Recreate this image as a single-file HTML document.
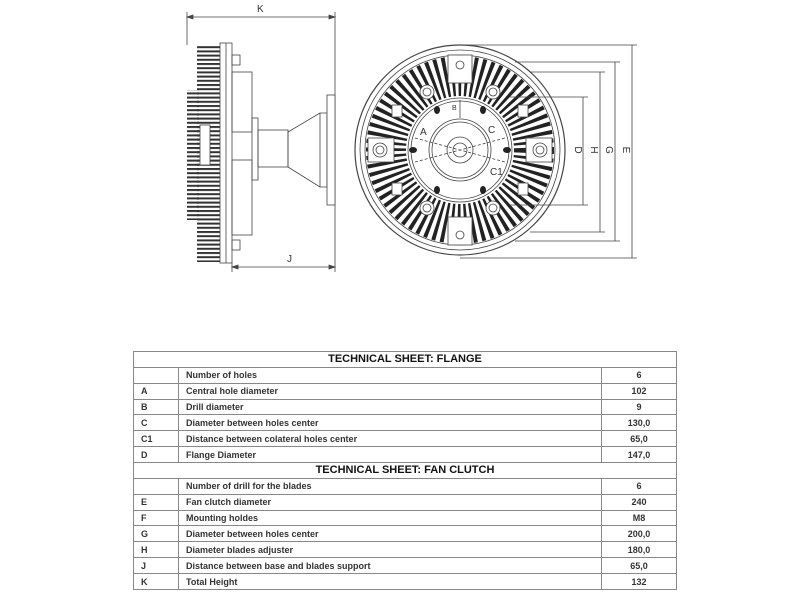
<!DOCTYPE html>
<html><head><meta charset="utf-8"><style>
body{margin:0;background:#fff;width:800px;height:600px;overflow:hidden;font-family:"Liberation Sans",Arial,sans-serif}
svg{position:absolute;left:0;top:0}
table{position:absolute;left:133px;top:351px;width:544px;height:239px;border-collapse:collapse;font-size:9px;font-weight:bold;color:#333}
td{border:1px solid #888;padding:0 0 0 7px;line-height:12px}
td.c{text-align:center;padding:0}
td.t{text-align:center;font-size:11px;color:#111;padding:0}
</style></head><body>
<svg width="800" height="300" viewBox="0 0 800 300">
<defs>
<pattern id="fin" width="4" height="4.2" patternUnits="userSpaceOnUse"><rect width="4" height="2" fill="#333"/></pattern>
</defs>
<g stroke="#444" stroke-width="0.8" fill="none">
<line x1="187" y1="17" x2="335" y2="17"/>
<polygon points="187,17 193,15 193,19" fill="#444"/><polygon points="335,17 329,15 329,19" fill="#444"/>
<line x1="187" y1="12" x2="187" y2="45"/>
<line x1="335" y1="12" x2="335" y2="272"/>
<line x1="232" y1="262" x2="232" y2="272"/>
<line x1="232" y1="267" x2="335" y2="267"/>
<polygon points="232,267 238,265 238,269" fill="#444"/><polygon points="335,267 329,265 329,269" fill="#444"/>
<rect x="197" y="45" width="23" height="217" fill="url(#fin)" stroke="none"/>
<rect x="187" y="90" width="12" height="130" fill="url(#fin)" stroke="none"/>
<rect x="200" y="125" width="10" height="40" fill="#fff" stroke="#444"/>
<rect x="220" y="43" width="12" height="220" fill="#fff"/>
<line x1="226" y1="43" x2="226" y2="263"/>
<rect x="232" y="55" width="8" height="10"/><rect x="232" y="240" width="8" height="10"/>
<rect x="232" y="72" width="20" height="60"/><rect x="232" y="160" width="20" height="75"/>
<rect x="252" y="118" width="6" height="62"/>
<rect x="258" y="130" width="30" height="37"/>
<polygon points="288,132 320,113 327,113 327,187 320,187 288,167"/>
<line x1="320" y1="113" x2="320" y2="187"/>
<rect x="327" y="95" width="8" height="110" fill="#fff"/>
<circle cx="460" cy="150" r="105" stroke-width="1.2"/>
<circle cx="460" cy="150" r="100"/>
<circle cx="460" cy="150" r="95"/>
<circle cx="460" cy="150" r="74" stroke="#222" stroke-width="40" stroke-dasharray="3.2 3.6"/>
<g fill="#fff" stroke="#444">
<rect x="448" y="55" width="24" height="28"/><rect x="448" y="217" width="24" height="28"/>
<rect x="368" y="138" width="26" height="24"/><rect x="526" y="138" width="26" height="24"/>
<circle cx="460" cy="65" r="4"/><circle cx="460" cy="235" r="4"/>
<circle cx="380" cy="150" r="7"/><circle cx="380" cy="150" r="4"/>
<circle cx="540" cy="150" r="7"/><circle cx="540" cy="150" r="4"/>
<circle cx="427" cy="92" r="7"/><circle cx="427" cy="92" r="4"/>
<circle cx="493" cy="92" r="7"/><circle cx="493" cy="92" r="4"/>
<circle cx="427" cy="208" r="7"/><circle cx="427" cy="208" r="4"/>
<circle cx="493" cy="208" r="7"/><circle cx="493" cy="208" r="4"/>
<rect x="392" y="105" width="10" height="12"/><rect x="518" y="105" width="10" height="12"/>
<rect x="392" y="183" width="10" height="12"/><rect x="518" y="183" width="10" height="12"/>
</g>
<circle cx="460" cy="150" r="52" fill="#fff"/>
<circle cx="460" cy="150" r="49"/>
<circle cx="460" cy="150" r="31"/><circle cx="460" cy="150" r="28"/>
<circle cx="460" cy="150" r="13"/><circle cx="460" cy="150" r="7"/>
<line x1="415" y1="138" x2="505" y2="162" stroke-dasharray="3 2"/>
<line x1="415" y1="162" x2="505" y2="138" stroke-dasharray="3 2"/>
<line x1="460" y1="100" x2="460" y2="118"/>
<g fill="#222" stroke="none">
<ellipse cx="413" cy="150" rx="4" ry="3"/><ellipse cx="507" cy="150" rx="4" ry="3"/>
<ellipse cx="437" cy="110" rx="3" ry="4"/><ellipse cx="483" cy="110" rx="3" ry="4"/>
<ellipse cx="437" cy="190" rx="3" ry="4"/><ellipse cx="483" cy="190" rx="3" ry="4"/>
</g>
<line x1="510" y1="97" x2="588" y2="97"/><line x1="510" y1="205" x2="588" y2="205"/>
<line x1="583" y1="97" x2="583" y2="205"/>
<line x1="530" y1="72" x2="605" y2="72"/><line x1="530" y1="232" x2="605" y2="232"/>
<line x1="600" y1="72" x2="600" y2="232"/>
<line x1="515" y1="62" x2="620" y2="62"/><line x1="515" y1="241" x2="620" y2="241"/>
<line x1="615" y1="62" x2="615" y2="241"/>
<line x1="460" y1="45" x2="637" y2="45"/><line x1="460" y1="258" x2="637" y2="258"/>
<line x1="632" y1="45" x2="632" y2="258"/>
</g>
<g font-family="Liberation Sans,Arial,sans-serif" font-size="10" fill="#333">
<text x="257" y="12">K</text><text x="287" y="262">J</text>
<text x="420" y="135">A</text><text x="488" y="133">C</text><text x="490" y="175">C1</text>
<text x="452" y="110" font-size="7">B</text>
<text transform="translate(575,150) rotate(90)" text-anchor="middle">D</text>
<text transform="translate(591,150) rotate(90)" text-anchor="middle">H</text>
<text transform="translate(606,150) rotate(90)" text-anchor="middle">G</text>
<text transform="translate(623,150) rotate(90)" text-anchor="middle">E</text>
</g>
</svg>
<table>
<colgroup><col style="width:45px"><col style="width:423px"><col></colgroup>
<tr><td class="t" colspan="3">TECHNICAL SHEET: FLANGE</td></tr>
<tr><td></td><td>Number of holes</td><td class="c">6</td></tr>
<tr><td>A</td><td>Central hole diameter</td><td class="c">102</td></tr>
<tr><td>B</td><td>Drill diameter</td><td class="c">9</td></tr>
<tr><td>C</td><td>Diameter between holes center</td><td class="c">130,0</td></tr>
<tr><td>C1</td><td>Distance between colateral holes center</td><td class="c">65,0</td></tr>
<tr><td>D</td><td>Flange Diameter</td><td class="c">147,0</td></tr>
<tr><td class="t" colspan="3">TECHNICAL SHEET: FAN CLUTCH</td></tr>
<tr><td></td><td>Number of drill for the blades</td><td class="c">6</td></tr>
<tr><td>E</td><td>Fan clutch diameter</td><td class="c">240</td></tr>
<tr><td>F</td><td>Mounting holdes</td><td class="c">M8</td></tr>
<tr><td>G</td><td>Diameter between holes center</td><td class="c">200,0</td></tr>
<tr><td>H</td><td>Diameter blades adjuster</td><td class="c">180,0</td></tr>
<tr><td>J</td><td>Distance between base and blades support</td><td class="c">65,0</td></tr>
<tr><td>K</td><td>Total Height</td><td class="c">132</td></tr>
</table>
</body></html>
